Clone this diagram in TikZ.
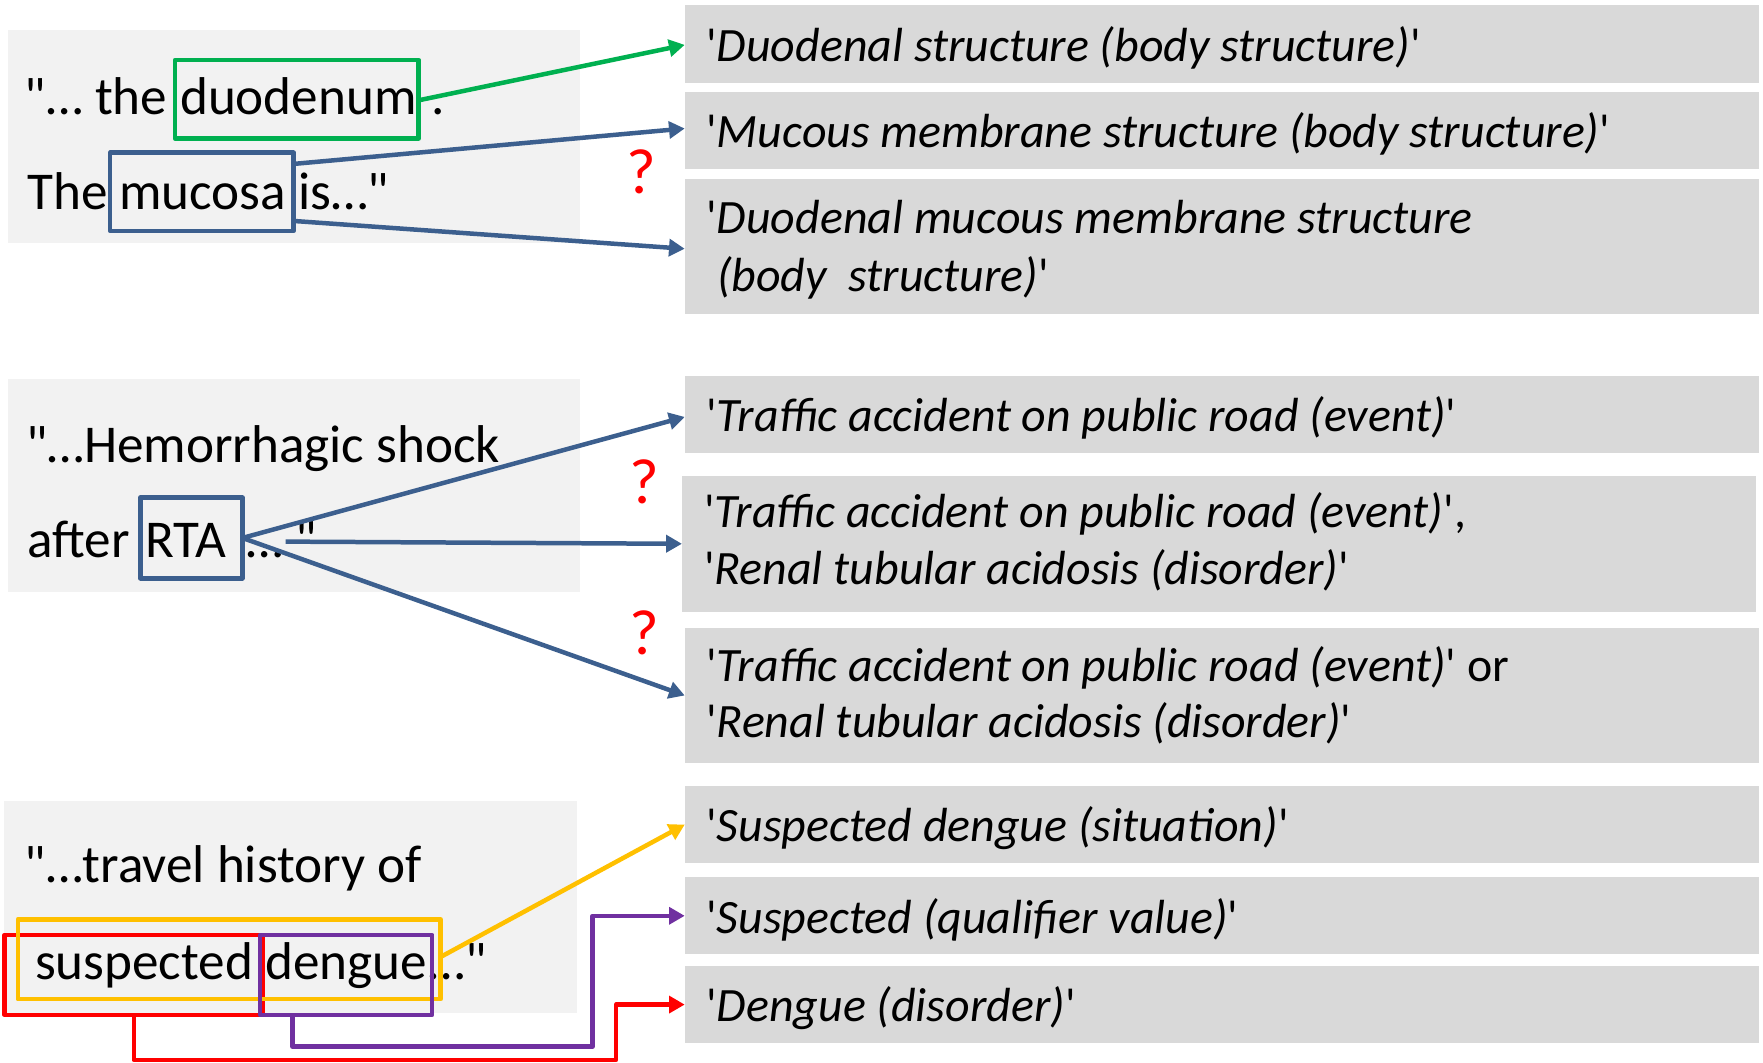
\documentclass[tikz,border=0pt]{standalone}
\usepackage{fontspec}
\setmainfont{Carlito}[Ligatures=TeXOff]
\usetikzlibrary{arrows.meta}
\definecolor{panelgrey}{HTML}{F2F2F2}
\definecolor{conceptgrey}{HTML}{D9D9D9}
\definecolor{hlgreen}{HTML}{00B050}
\definecolor{hlblue}{HTML}{3C5F8E}
\definecolor{hlyellow}{HTML}{FFC000}
\definecolor{hlred}{HTML}{FF0000}
\definecolor{hlpurple}{HTML}{7030A0}
\begin{document}
\begin{tikzpicture}[x=1pt,y=-1pt,
  panel/.style={fill=panelgrey, inner sep=0, outer sep=0, anchor=north west, minimum width=509pt, minimum height=189pt},
  concept/.style={fill=conceptgrey, inner sep=0, outer sep=0, anchor=north west, minimum width=955pt},
  ltext/.style={font=\fontsize{47.3}{56}\selectfont, inner sep=0, anchor=base west},
  rtext/.style={font=\fontsize{42.6}{51}\selectfont, inner sep=0, anchor=base west},
  hlbox/.style={draw=#1, line width=4pt, line join=round, inner sep=0, outer sep=0, anchor=north west},
  link/.style={draw=#1, line width=4pt, line join=round, -{Triangle[length=14pt,width=15pt]}},
  qmark/.style={text=hlred, font=\fontsize{57}{60}\selectfont, inner sep=0}]
\useasboundingbox (0,0) rectangle (1568,945);

% sentence panels
\node[panel] (p1) at (7,27) {};
\node[panel] (p2) at (7,337.4) {};
\node[panel] (p3) at (4,712) {};

% concept boxes
\node[concept, minimum height=69pt]    (c1) at (609,4.4) {};
\node[concept, minimum height=68.6pt]  (c2) at (609,82) {};
\node[concept, minimum height=120.5pt] (c3) at (609,159) {};
\node[concept, minimum height=68.8pt]  (c4) at (609,334.4) {};
\node[concept, minimum height=120.7pt] (c5) at (606.5,423.3) {};
\node[concept, minimum height=120.7pt] (c6) at (609,558.2) {};
\node[concept, minimum height=68.8pt]  (c7) at (609,699) {};
\node[concept, minimum height=68.4pt]  (c8) at (609,780.3) {};
\node[concept, minimum height=68.9pt]  (c9) at (609,859) {};

% concept labels
\node[rtext] (c1t)  at (628,54.4)  {'\textit{Duodenal structure (body structure)}'};
\node[rtext] (c2t)  at (628,131.4) {'\textit{Mucous membrane structure (body structure)}'};
\node[rtext] (c3ta) at (628,207.6) {'\textit{Duodenal mucous membrane structure}};
\node[rtext] (c3tb) at (628,258.9) {\ \textit{(body\ \ structure)}'};
\node[rtext] (c4t)  at (628,383.4) {'\textit{Traffic accident on public road (event)}'};
\node[rtext] (c5ta) at (626,469.4) {'\textit{Traffic accident on public road (event)}',};
\node[rtext] (c5tb) at (626,519.8) {'\textit{Renal tubular acidosis (disorder)}'};
\node[rtext] (c6ta) at (628,605.8) {'\textit{Traffic accident on public road (event)}' or};
\node[rtext] (c6tb) at (628,656)   {'\textit{Renal tubular acidosis (disorder)}'};
\node[rtext] (c7t)  at (628,748.8) {'\textit{Suspected dengue (situation)}'};
\node[rtext] (c8t)  at (628,829.9) {'\textit{Suspected (qualifier value)}'};
\node[rtext] (c9t)  at (628,908.9) {'\textit{Dengue (disorder)}'};

% sentence 1
\node[ltext] (s1a) at (22,101.8)  {"… the};
\node[ltext] (s1b) at (160,101.8) {duodenum};
\node[ltext] (s1c) at (384,101.8) {.};
\node[ltext] (s1d) at (24,186.3) {The};
\node[ltext] (s1e) at (106,186.3) {mucosa};
\node[ltext] (s1f) at (265,186.3) {is…"};
\node[hlbox=hlgreen, minimum width=216.8pt, minimum height=69.6pt] (duo) at (155.6,53.4) {};
\node[hlbox=hlblue, minimum width=163pt, minimum height=69.7pt] (muc) at (98,135.8) {};

% sentence 2
\node[ltext] (s2a) at (23,411.5)   {"…Hemorrhagic shock};
\node[ltext] (s2b) at (24,496.1) {after};
\node[ltext] (s2c) at (129,496.1) {RTA};
\node[ltext] (s2d) at (219,496.1) {… "};
\node[hlbox=hlblue, minimum width=90.6pt, minimum height=71.7pt] (rta) at (125,442.6) {};
\coordinate (rtaout) at (254,481.7);

% sentence 3
\node[ltext] (s3a) at (22,785.1) {"…travel history of};
\node[ltext] (s3b) at (31,871.1) {suspected};
\node[ltext] (s3c) at (236,871.1) {dengue};
\node[ltext] (s3d) at (381,871.1) {…"};
\node[hlbox=hlred, minimum width=229.4pt, minimum height=71pt] (sus) at (4,831.6) {};
\node[hlbox=hlyellow, minimum width=376pt, minimum height=71pt] (sd) at (15.9,817.6) {};
\node[hlbox=hlpurple, minimum width=153pt, minimum height=71pt] (den) at (231.4,831.6) {};

% ambiguity marks
\node[qmark] (q1) at (570.6,152.6) {?};
\node[qmark] (q2) at (573.5,428.5) {?};
\node[qmark] (q3) at (573,562.6) {?};

% links from mentions to concepts
\draw[link=hlgreen] ([yshift=-1pt]duo.east) -- ([yshift=-1pt]c1.west);
\draw[link=hlblue] ([yshift=-10pt]muc.north east) -- ([yshift=2pt]c2.west);
\draw[link=hlblue] ([yshift=9pt]muc.south east) -- ([yshift=-2pt]c3.west);
\draw[link=hlblue] (rta.east) -- ([yshift=-2pt]c4.west);
\draw[link=hlblue] (rtaout) -- (c5.west);
\draw[link=hlblue] (rta.east) -- (c6.west);
\draw[link=hlyellow] ([yshift=2pt]sd.east) -- (c7.west);
\coordinate (pbend) at (527,930.9);
\coordinate (rbend) at (548,942.7);
\draw[link=hlpurple] ([xshift=28.6pt]den.south west) |- (pbend) |- (c8.west);
\draw[link=hlred] ([xshift=115pt]sus.south west) |- (rbend) |- (c9.west);
\end{tikzpicture}
\end{document}
